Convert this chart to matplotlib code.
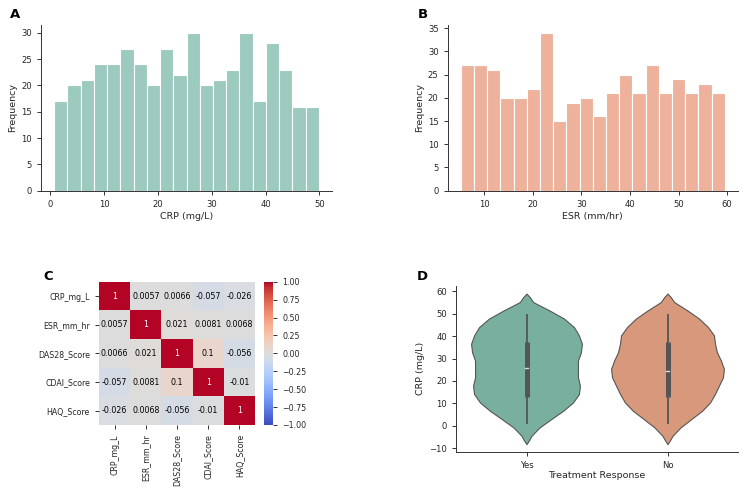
import numpy as np
import matplotlib
matplotlib.use('Agg')
from matplotlib import pyplot as plt

# Panel A: CRP histogram (20 bins)
crp_edges = np.linspace(0.7, 49.9, 21)
crp_counts = [17, 20, 21, 24, 24, 27, 24, 20, 27, 22, 30, 20, 21, 23, 30, 17, 28, 23, 16, 16]

# Panel B: ESR histogram (20 bins)
esr_edges = np.linspace(5.2, 59.5, 21)
esr_counts = [27, 27, 26, 20, 20, 22, 34, 15, 19, 20, 16, 21, 25, 21, 27, 21, 24, 21, 23, 21]

# Panel C: correlation matrix
corr_labels = ['CRP_mg_L', 'ESR_mm_hr', 'DAS28_Score', 'CDAI_Score', 'HAQ_Score']
corr = np.array([
    [1, 0.0057, 0.0066, -0.057, -0.026],
    [0.0057, 1, 0.021, 0.0081, 0.0068],
    [0.0066, 0.021, 1, 0.1, -0.056],
    [-0.057, 0.0081, 0.1, 1, -0.01],
    [-0.026, 0.0068, -0.056, -0.01, 1],
])

# Panel D: violin outlines and box stats
groups = ['Yes', 'No']
violin_y = [59.0, 57.4, 55.2, 51.5, 47.8, 44.0, 40.3, 36.6, 32.8, 29.1, 25.4,
            21.6, 17.9, 14.2, 10.4, 6.7, 3.0, -0.8, -4.5, -6.5, -8.2]
yes_density = [0, 3.3, 6.7, 23, 38, 48, 53, 56, 55, 52, 52, 52, 54, 53, 47, 37, 25, 13, 5, 2.5, 0]
no_density = [0, 3.3, 6.7, 20, 32, 41, 47, 48, 50, 54, 57, 56, 52, 48, 43, 35, 24, 13, 5, 2.5, 0]
box_min = [0.7, 0.6]
box_q1 = [12.8, 12.8]
box_med = [25.6, 24.6]
box_q3 = [37.3, 37.2]
box_max = [50.0, 50.0]

W, H = 750, 490
fig = plt.figure(figsize=(7.5, 4.9), dpi=100)

def px_axes(left, top, right, bottom):
    return fig.add_axes([left / W, 1 - bottom / H, (right - left) / W, (bottom - top) / H])

tick_fs = 6.1
label_fs = 6.8
text_col = '#262626'
plt.rcParams['axes.edgecolor'] = '#333333'
plt.rcParams['axes.linewidth'] = 0.7
plt.rcParams['xtick.color'] = '#333333'
plt.rcParams['ytick.color'] = '#333333'
plt.rcParams['xtick.major.width'] = 0.7
plt.rcParams['ytick.major.width'] = 0.7
plt.rcParams['xtick.major.size'] = 3
plt.rcParams['ytick.major.size'] = 3
plt.rcParams['xtick.labelsize'] = tick_fs
plt.rcParams['ytick.labelsize'] = tick_fs

def style(ax):
    ax.spines['top'].set_visible(False)
    ax.spines['right'].set_visible(False)
    ax.tick_params(labelcolor=text_col)

def hist_bars(ax, edges, counts, color):
    ax.bar(edges[:-1], counts, width=np.diff(edges), align='edge', color=color,
           edgecolor='white', linewidth=0.8)

# A
axA = px_axes(41, 25, 332, 190.7)
hist_bars(axA, crp_edges, crp_counts, '#9dcabe')
axA.set_xticks(range(0, 51, 10))
axA.set_yticks(range(0, 31, 5))
axA.set_xlabel('CRP (mg/L)', fontsize=label_fs, color=text_col, labelpad=2)
axA.set_ylabel('Frequency', fontsize=label_fs, color=text_col, labelpad=3)
style(axA)

# B
axB = px_axes(447.7, 25, 738, 190.7)
hist_bars(axB, esr_edges, esr_counts, '#eeb19b')
axB.set_xticks(range(10, 61, 10))
axB.set_yticks(range(0, 36, 5))
axB.set_xlabel('ESR (mm/hr)', fontsize=label_fs, color=text_col, labelpad=2)
axB.set_ylabel('Frequency', fontsize=label_fs, color=text_col, labelpad=3)
style(axB)

# C
axC = px_axes(99, 281.7, 255, 425)
cax = px_axes(264.3, 281.7, 273.3, 425)
n = len(corr_labels)
cmap = plt.get_cmap('coolwarm')
mesh = axC.pcolormesh(np.arange(n + 1), np.arange(n + 1), corr, cmap=cmap, vmin=-1, vmax=1)
axC.set_xlim(0, n)
axC.set_ylim(n, 0)
for i in range(n):
    for j in range(n):
        v = corr[i, j]
        r, g, b, _ = cmap((v + 1) / 2)
        lum = 0.2126 * r + 0.7152 * g + 0.0722 * b
        axC.text(j + 0.5, i + 0.5, '{:.2g}'.format(v), ha='center', va='center',
                 fontsize=5.7, color='white' if lum < 0.408 else 'black')
axC.set_xticks(np.arange(n) + 0.5)
axC.set_yticks(np.arange(n) + 0.5)
axC.set_xticklabels(corr_labels, rotation=90, fontsize=5.7, color=text_col)
axC.set_yticklabels(corr_labels, fontsize=5.7, color=text_col)
for s in axC.spines.values():
    s.set_visible(False)
cb = fig.colorbar(mesh, cax=cax)
cb.outline.set_visible(False)
cb.set_ticks(np.arange(-1, 1.01, 0.25))
cb.ax.tick_params(labelsize=5.7, labelcolor=text_col)

# D
axD = px_axes(456, 286, 738, 451.7)
violin_colors = ['#79af9f', '#d7987b']
scale = 0.4 / max(max(yes_density), max(no_density))
for k, dens in enumerate([yes_density, no_density]):
    w = np.array(dens) * scale
    axD.fill_betweenx(violin_y, k - w, k + w, facecolor=violin_colors[k],
                      edgecolor='#555555', linewidth=0.8, zorder=1)
    axD.plot([k, k], [box_min[k], box_max[k]], color='#555555', lw=1.3, zorder=2,
             solid_capstyle='butt')
    axD.plot([k, k], [box_q1[k], box_q3[k]], color='#555555', lw=3.6, zorder=3,
             solid_capstyle='butt')
    axD.plot([k - 0.012, k + 0.012], [box_med[k], box_med[k]], color='#d9d9d9', lw=1.0, zorder=4)
axD.set_xlim(-0.5, 1.5)
axD.set_xticks(range(len(groups)))
axD.set_xticklabels(groups)
axD.set_yticks(range(-10, 61, 10))
axD.set_xlabel('Treatment Response', fontsize=label_fs, color=text_col, labelpad=1)
axD.set_ylabel('CRP (mg/L)', fontsize=label_fs, color=text_col, labelpad=3)
style(axD)

# panel letters
for letter, x, y in [('A', 10, 18.5), ('B', 417.5, 18.5), ('C', 43.5, 279.5), ('D', 416.5, 279.5)]:
    fig.text(x / W, 1 - y / H, letter, fontsize=9.5, fontweight='bold', va='baseline', ha='left')

fig.savefig('out.png', dpi=100)
